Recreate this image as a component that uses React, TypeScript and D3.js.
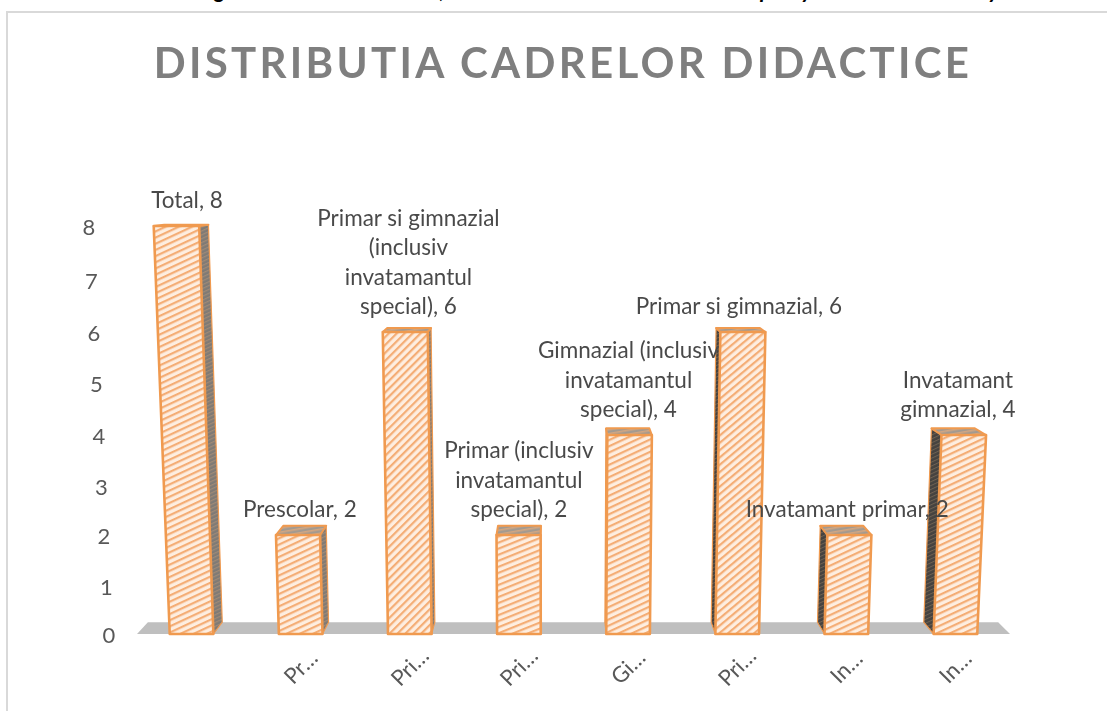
import React, { useEffect, useRef } from 'react';
import * as d3 from 'd3';

const categories = ['Total', 'Prescolar', 'Primar si gimnazial (inclusiv invatamantul special)', 'Primar (inclusiv invatamantul special)', 'Gimnazial (inclusiv invatamantul special)', 'Primar si gimnazial', 'Invatamant primar', 'Invatamant gimnazial'];
const values = [8, 2, 6, 2, 4, 6, 2, 4];
const axisLabels = ['', 'Pr…', 'Pri…', 'Pri…', 'Gi…', 'Pri…', 'In…', 'In…'];
const labelLines = [
    ['Total, 8'],
    ['Prescolar, 2'],
    ['Primar si gimnazial', '(inclusiv', 'invatamantul', 'special), 6'],
    ['Primar (inclusiv', 'invatamantul', 'special), 2'],
    ['Gimnazial (inclusiv', 'invatamantul', 'special), 4'],
    ['Primar si gimnazial, 6'],
    ['Invatamant primar, 2'],
    ['Invatamant', 'gimnazial, 4'],
];
const yTicks = [0, 1, 2, 3, 4, 5, 6, 7, 8];
const title = 'DISTRIBUTIA CADRELOR DIDACTICE';

// the texture looks different per bar in the original, 3D mapping i guess
const hatchAngles = [-25, -25, -45, -22, -25, -40, -25, -25];
// tails of the line of text cropped off at the top of the picture
const croppedTails = [['g', 220], [',', 442], ['p', 766], ['y', 807], ['y', 994]];

const WIDTH = 1107;
const HEIGHT = 711;
const FONT = 'Lato, sans-serif';
const LABEL_SIZE = 22.5;

function App() {
    const svgRef = useRef(null);

    useEffect(() => {
        const root = d3.select(svgRef.current);
        root.selectAll('*').remove();

        const xScale = d3.scaleBand().domain(categories).range([137, 1010]).paddingInner(0.6).paddingOuter(0.3);
        // perspective makes the axis slightly uneven so the scale is piecewise
        const yScale = d3.scaleLinear().domain(yTicks).range([634, 586, 535, 486, 435, 383, 332, 280, 226]);

        // fake perspective: x spreads away from a vanishing point with height, depth goes toward it
        const vanishX = 555;
        const vanishY = 180;
        const spread = 0.0052;
        const depth = 0.974;
        const frontX = (x, v) => x + (x - vanishX) * spread * v;
        const backX = (x) => vanishX + (x - vanishX) * depth;
        const backY = (y) => vanishY + (y - vanishY) * depth;

        const defs = root.append('defs');
        defs.append('filter').attr('id', 'soft').append('feGaussianBlur').attr('stdDeviation', 0.55);
        defs.append('filter').attr('id', 'softText').append('feGaussianBlur').attr('stdDeviation', 0.3);

        const hatch = (id, angle, bg, stripe, period, w) => {
            const p = defs.append('pattern')
                .attr('id', id)
                .attr('patternUnits', 'userSpaceOnUse')
                .attr('width', period)
                .attr('height', period)
                .attr('patternTransform', `rotate(${angle})`);
            p.append('rect').attr('width', period).attr('height', period).attr('fill', bg);
            p.append('rect').attr('width', period).attr('height', w).attr('fill', stripe);
        };
        hatchAngles.forEach((a, i) => hatch(`front${i}`, a, '#feeee0', '#f4ad75', 5.6, 2.2));
        hatch('sideRight', -25, '#7f7a75', '#a08a76', 3.5, 1.2);
        hatch('sideLeft', -25, '#45423f', '#6f6152', 3.5, 1);
        hatch('topFace', -10, '#a39a90', '#d3a680', 4, 1.6);

        // frame, only top and left show
        root.append('path')
            .attr('d', `M7,${HEIGHT}V12H${WIDTH}`)
            .attr('fill', 'none')
            .attr('stroke', '#d9d9d9')
            .attr('stroke-width', 2);

        root.selectAll('.tail')
            .data(croppedTails)
            .enter()
            .append('text')
            .attr('class', 'tail')
            .attr('x', d => d[1])
            .attr('y', -2)
            .attr('text-anchor', 'middle')
            .style('font', `italic bold 22px ${FONT}`)
            .attr('fill', '#000')
            .text(d => d[0]);

        root.append('text')
            .attr('x', 563)
            .attr('y', 78)
            .attr('text-anchor', 'middle')
            .style('font', `bold 42px ${FONT}`)
            .style('letter-spacing', '3.3px')
            .attr('fill', '#7f7f7f')
            .attr('filter', 'url(#softText)')
            .text(title);

        const chart = root.append('g').attr('filter', 'url(#soft)');

        // floor
        const floorL = xScale.range()[0];
        const floorR = xScale.range()[1];
        chart.append('path')
            .attr('d', d3.line()([
                [floorL, yScale(0)],
                [backX(floorL), backY(yScale(0))],
                [backX(floorR), backY(yScale(0))],
                [floorR, yScale(0)],
            ]) + 'Z')
            .attr('fill', '#bfbfbf');

        const stroke = (sel, w) => sel
            .attr('stroke', '#f09a50')
            .attr('stroke-width', w)
            .attr('stroke-linejoin', 'round');

        categories.forEach((c, i) => {
            const v = values[i];
            const x0 = xScale(c);
            const x1 = x0 + xScale.bandwidth();
            const y0 = yScale(0);
            const yT = yScale(v);
            const tl = frontX(x0, v);
            const tr = frontX(x1, v);
            const onLeft = (x0 + x1) / 2 < vanishX;

            // side face, whichever one faces the vanishing point
            const sb = onLeft ? x1 : x0;
            const st = onLeft ? tr : tl;
            stroke(chart.append('path')
                .attr('d', d3.line()([[sb, y0], [backX(sb), backY(y0)], [backX(st), backY(yT)], [st, yT]]) + 'Z')
                .attr('fill', onLeft ? 'url(#sideRight)' : 'url(#sideLeft)'), 1.2);

            // top face
            stroke(chart.append('path')
                .attr('d', d3.line()([[tl, yT], [backX(tl), backY(yT)], [backX(tr), backY(yT)], [tr, yT]]) + 'Z')
                .attr('fill', 'url(#topFace)'), 2);

            // front face
            stroke(chart.append('path')
                .attr('d', d3.line()([[x0, y0], [tl, yT], [tr, yT], [x1, y0]]) + 'Z')
                .attr('fill', `url(#front${i})`), 2.6);
        });

        const text = root.append('g').attr('filter', 'url(#softText)');

        text.selectAll('.ytick')
            .data(yTicks)
            .enter()
            .append('text')
            .attr('class', 'ytick')
            .attr('x', d => 109 - d * 2.5)
            .attr('y', d => yScale(d) + 8.5)
            .attr('text-anchor', 'middle')
            .style('font', `22px ${FONT}`)
            .attr('fill', '#595959')
            .text(d => d);

        axisLabels.forEach((label, i) => {
            const cx = xScale(categories[i]) + xScale.bandwidth() / 2;
            text.append('text')
                .attr('transform', `translate(${cx},667) rotate(-45)`)
                .attr('text-anchor', 'middle')
                .attr('dy', '0.35em')
                .style('font', `22px ${FONT}`)
                .attr('fill', '#595959')
                .text(label);
        });

        labelLines.forEach((lines, i) => {
            const v = values[i];
            const cx = xScale(categories[i]) + xScale.bandwidth() / 2;
            const lx = frontX(cx, v * 0.3);
            lines.forEach((line, j) => {
                text.append('text')
                    .attr('x', lx)
                    .attr('y', yScale(v) - 26 - (lines.length - 1 - j) * 29.3 + 8)
                    .attr('text-anchor', 'middle')
                    .style('font', `${LABEL_SIZE}px ${FONT}`)
                    .attr('fill', '#4a4a4a')
                    .text(line);
            });
        });
    }, []);

    return (
        <svg
            ref={svgRef}
            width={WIDTH}
            height={HEIGHT}
            style={{ position: 'absolute', left: 0, top: 0, background: '#fff' }}
        />
    );
}

export default App;
